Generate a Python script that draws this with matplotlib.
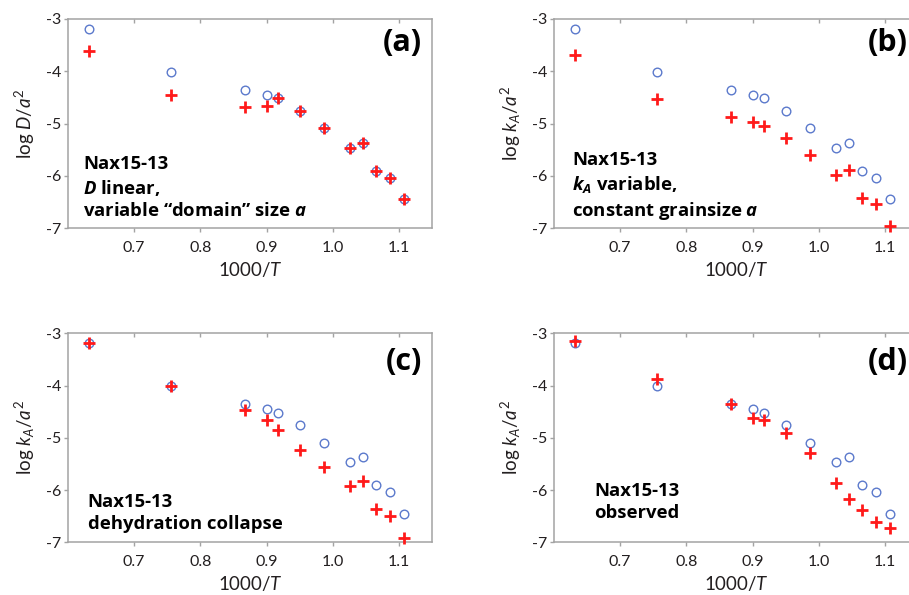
import matplotlib
matplotlib.use("Agg")
import matplotlib.pyplot as plt

plt.rcParams['font.family'] = ['Lato', 'DejaVu Sans']
plt.rcParams['axes.unicode_minus'] = False
plt.rcParams['mathtext.fontset'] = 'custom'
plt.rcParams['mathtext.rm'] = 'Lato'
plt.rcParams['mathtext.it'] = 'Lato:italic'
plt.rcParams['mathtext.bf'] = 'Open Sans:bold:italic'

# ---- data ----
inv_T = [0.631, 0.756, 0.868, 0.900, 0.918, 0.951, 0.987, 1.026, 1.046, 1.065, 1.086, 1.108]
observed = [-3.19, -4.01, -4.35, -4.45, -4.52, -4.76, -5.09, -5.46, -5.37, -5.91, -6.04, -6.45]
model_a = [-3.61, -4.45, -4.69, -4.67, -4.52, -4.76, -5.09, -5.46, -5.37, -5.91, -6.04, -6.45]
model_b = [-3.69, -4.53, -4.87, -4.97, -5.04, -5.27, -5.60, -5.98, -5.89, -6.43, -6.55, -6.97]
model_c = [-3.18, -4.01, -4.47, -4.66, -4.85, -5.23, -5.55, -5.93, -5.83, -6.37, -6.50, -6.91]
model_d = [-3.15, -3.88, -4.35, -4.63, -4.66, -4.90, -5.30, -5.86, -6.18, -6.38, -6.61, -6.73]

panel_labels = ['(a)', '(b)', '(c)', '(d)']
ylabels = [r'log $D/a^2$', r'log $k_A/a^2$', r'log $k_A/a^2$', r'log $k_A/a^2$']
notes = ['Nax15-13\n$\\mathbf{D}$ linear,\nvariable \u201cdomain\u201d size $\\mathbf{a}$',
         'Nax15-13\n$\\mathbf{k_A}$ variable,\nconstant grainsize $\\mathbf{a}$',
         'Nax15-13\ndehydration collapse',
         'Nax15-13\nobserved']
models = [model_a, model_b, model_c, model_d]
xticks = [0.7, 0.8, 0.9, 1.0, 1.1]
xticklabels = ['0.7', '0.8', '0.9', '1.0', '1.1']
yticks = [-3, -4, -5, -6, -7]

W, H = 909, 595
fig = plt.figure(figsize=(W / 100, H / 100), dpi=100)

# pixel boxes: left, top, right, bottom
boxes = [(68, 19, 432, 228), (554, 19, 918, 228), (68, 333.3, 432, 542.3), (554, 333.3, 918, 542.3)]
note_pos = [(0.041, 0.057), (0.05, 0.057), (0.054, 0.064), (0.11, 0.115)]
lab_y = [0.885, 0.885, 0.864, 0.864]

text_col = '#231f20'
spine_col = '#a3a3a3'

for i in range(4):
    l, t, r, b = boxes[i]
    ax = fig.add_axes([l / W, 1 - b / H, (r - l) / W, (b - t) / H])
    ax.plot(inv_T, observed, linestyle='none', marker='o', markersize=6.2,
            markerfacecolor='none', markeredgecolor='#5b79cc', markeredgewidth=1.0,
            zorder=3, clip_on=False)
    ax.plot(inv_T, models[i], linestyle='none', marker='+', markersize=8,
            color='#ff1a1a', markeredgewidth=2.0, zorder=4, clip_on=False)
    ax.set_xlim(0.6, 1.15)
    ax.set_ylim(-7, -3)
    ax.set_xticks(xticks)
    ax.set_xticklabels(xticklabels)
    ax.set_yticks(yticks)
    ax.set_yticklabels([str(v) for v in yticks])
    for s in ax.spines.values():
        s.set_color(spine_col)
        s.set_linewidth(1.1)
    ax.tick_params(axis='x', which='both', direction='out', length=3, width=1,
                   color=spine_col, labelsize=11.5, labelcolor=text_col, pad=6)
    ax.tick_params(axis='y', which='both', direction='out', length=3, width=1,
                   color=spine_col, labelsize=11.5, labelcolor=text_col, pad=2)
    # top inward ticks
    sec = ax.secondary_xaxis('top')
    sec.set_xticks(xticks)
    sec.tick_params(axis='x', direction='in', length=3, width=1, color=spine_col, labeltop=False)
    sec.spines['top'].set_visible(False)
    ax.set_xlabel(r'1000/$T$', fontsize=13.5, color=text_col, labelpad=4)
    ax.set_ylabel(ylabels[i], fontsize=13.5, color=text_col, labelpad=6)
    ax.text(0.972, lab_y[i], panel_labels[i], transform=ax.transAxes, ha='right', va='center',
            fontsize=22, fontweight='bold', color='black', family=['Open Sans', 'DejaVu Sans'])
    ax.text(note_pos[i][0], note_pos[i][1], notes[i], transform=ax.transAxes, ha='left', va='baseline',
            fontsize=13.3, fontweight='bold', color='black', linespacing=1.3,
            family=['Open Sans', 'DejaVu Sans'])

fig.savefig('out.png', dpi=100)
